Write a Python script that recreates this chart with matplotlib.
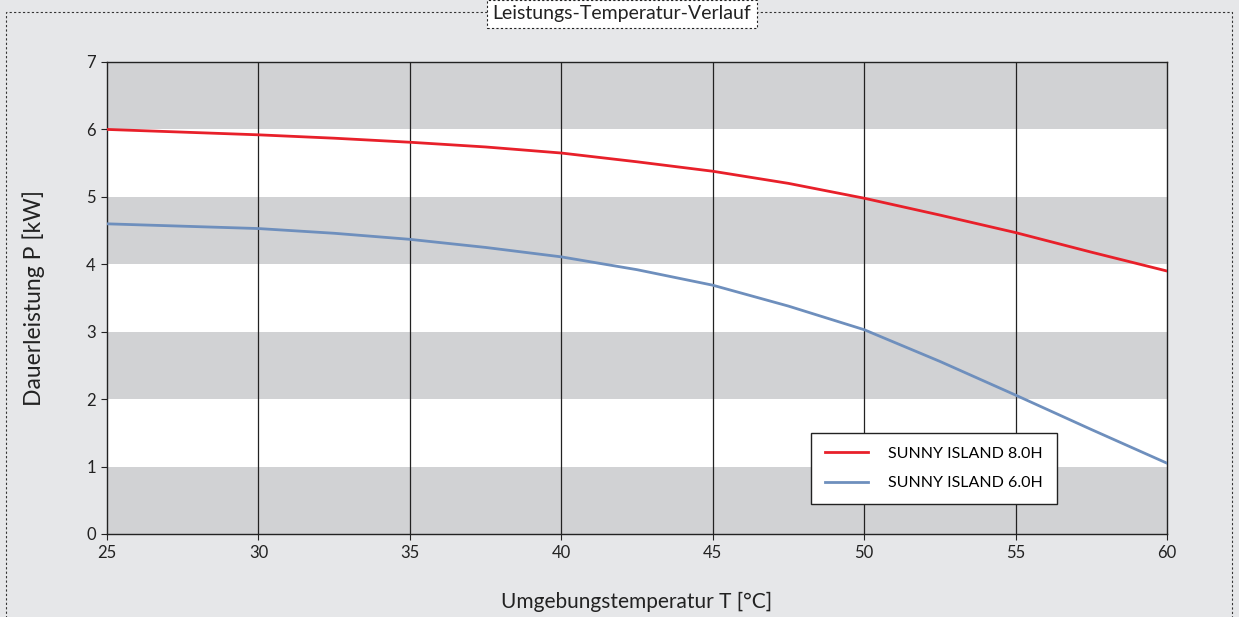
import matplotlib
matplotlib.use("Agg")
import matplotlib.pyplot as plt
from matplotlib.patches import Rectangle

temps = [25, 30, 32.5, 35, 37.5, 40, 42.5, 45, 47.5, 50, 52.5, 55, 57.5, 60]
si80 = [6.00, 5.92, 5.87, 5.81, 5.74, 5.65, 5.52, 5.38, 5.20, 4.98, 4.73, 4.47, 4.18, 3.90]
si60 = [4.60, 4.53, 4.46, 4.37, 4.25, 4.11, 3.92, 3.69, 3.38, 3.03, 2.56, 2.06, 1.55, 1.05]
series_labels = ["SUNNY ISLAND 8.0H", "SUNNY ISLAND 6.0H"]
xticks = [25, 30, 35, 40, 45, 50, 55, 60]
yticks = [0, 1, 2, 3, 4, 5, 6, 7]
title = "Leistungs-Temperatur-Verlauf"
xlabel = "Umgebungstemperatur T [°C]"
ylabel = "Dauerleistung P [kW]"

plt.rcParams['font.family'] = ['Lato', 'DejaVu Sans']
W, H = 1239, 617
fig = plt.figure(figsize=(W/100, H/100), dpi=100)
bg = "#e6e7e9"
fig.patch.set_facecolor(bg)

# outer dashed frame
fig.add_artist(Rectangle((6/W, -0.1), (1232-6)/W, (H-12)/H + 0.1, transform=fig.transFigure,
                         fill=False, ls=(0, (2, 2)), lw=0.8, ec="#333333"))

ax = fig.add_axes([107/W, 1 - 534/H, (1167-107)/W, (534-62)/H])
ax.set_facecolor("white")
for lo in [0, 2, 4, 6]:
    ax.axhspan(lo, lo + 1, color="#d1d2d4", lw=0, zorder=0)
for x in xticks[1:-1]:
    ax.axvline(x, color="#222222", lw=0.9, zorder=1)

ax.plot(temps, si80, color="#e8202a", lw=2, label=series_labels[0], zorder=3,
        solid_joinstyle="round")
ax.plot(temps, si60, color="#6e8fbd", lw=2, label=series_labels[1], zorder=3,
        solid_joinstyle="round")

ax.set_xlim(25, 60)
ax.set_ylim(0, 7)
ax.set_xticks(xticks)
ax.set_yticks(yticks)
ax.tick_params(labelsize=12, length=4, width=0.8, colors="#222222", pad=4)
for s in ax.spines.values():
    s.set_color("#222222")
    s.set_linewidth(1)

ax.set_xlabel(xlabel, fontsize=15, labelpad=22, color="#222222")
ax.set_ylabel(ylabel, fontsize=16.5, labelpad=30, color="#222222")

leg = ax.legend(loc="upper left", bbox_to_anchor=((811-107)/1060, (534-433)/472),
                borderaxespad=0, frameon=True, fancybox=False, fontsize=11.5,
                handlelength=2.7, handletextpad=1.3, borderpad=0.85, labelspacing=0.95)
leg.get_frame().set_edgecolor("#222222")
leg.get_frame().set_linewidth(1)
leg.get_frame().set_facecolor("white")
leg.get_frame().set_alpha(1)

fig.text(622/W, 1 - 14/H, title, ha="center", va="center", fontsize=14, color="#222222",
         bbox=dict(boxstyle="square,pad=0.3", fc="white", ec="#222222", ls=(0, (2, 2)), lw=0.8))

fig.savefig("out.png", dpi=100, facecolor=bg)
